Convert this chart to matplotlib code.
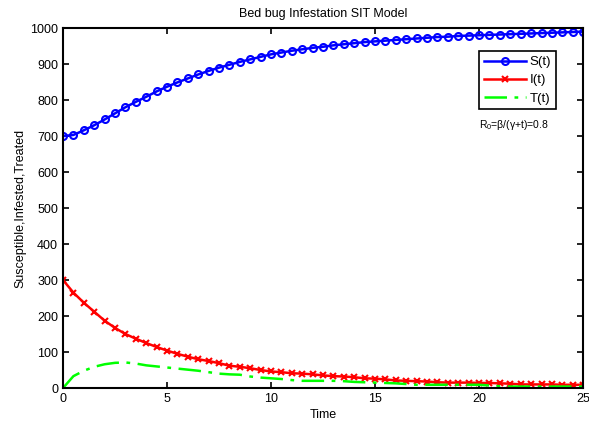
import numpy as np
import matplotlib
matplotlib.use('Agg')
import matplotlib.pyplot as plt

plt.rcParams['font.family'] = ['Liberation Sans', 'DejaVu Sans']
plt.rcParams['mathtext.fontset'] = 'custom'
plt.rcParams['mathtext.rm'] = 'Liberation Sans'

# Données (pas de 0.5)
t = np.arange(0, 25.01, 0.5)

S = [700, 703, 716, 730, 746, 763, 780, 795, 809, 824,
     837, 849, 860, 871, 881, 890, 898, 906, 913, 920,
     927, 932, 937, 941, 945, 948, 952, 955, 958, 961,
     963, 965, 967, 969, 971, 973, 975, 976, 978, 979,
     980, 981, 982, 983, 984, 985, 986, 987, 988, 989, 990]

I = [300, 265, 237, 212, 187, 167, 150, 137, 125, 114,
     104, 95, 87, 80, 75, 69, 62, 59, 55, 50,
     46, 44, 41, 40, 38, 35, 33, 32, 30, 27,
     26, 24, 21, 20, 19, 18, 16, 15, 15, 15,
     14, 14, 13, 12, 10, 10, 10, 10, 9, 9, 9]

T = [0, 33, 48, 59, 66, 70, 71, 68, 63, 60,
     57, 54, 51, 48, 44, 40, 38, 37, 32, 29,
     27, 25, 22, 20, 20, 20, 20, 19, 17, 16,
     15, 14, 13, 11, 9, 9, 9, 9, 9, 9,
     9, 7, 5, 4, 4, 4, 4, 4, 4, 4, 4]

fig = plt.figure(figsize=(5.89, 4.25), dpi=100)
ax = fig.add_axes([0.107, 0.087, 0.883, 0.847])

ax.plot(t, S, color='#0000ff', lw=1.8, marker='o', markersize=5,
        markerfacecolor='none', markeredgewidth=1.5, label='S(t)')
ax.plot(t, I, color='#ff0000', lw=1.8, marker='x', markersize=4.5,
        markeredgewidth=1.5, label='I(t)')
ax.plot(t, T, color='#00ff00', lw=1.8, ls='-.', dashes=(9, 3, 1.5, 3), label='T(t)')

ax.set_xlim(0, 25)
ax.set_ylim(0, 1000)
ax.set_xticks(range(0, 26, 5))
ax.set_yticks(range(0, 1001, 100))
ax.tick_params(direction='in', top=True, right=True, labelsize=9, length=4, width=1.2)
for sp in ax.spines.values():
    sp.set_linewidth(1.5)

ax.set_title('Bed bug Infestation SIT Model', fontsize=9, pad=8)
ax.set_xlabel('Time', fontsize=9, labelpad=3)
ax.set_ylabel('Susceptible,Infested,Treated', fontsize=9, labelpad=3)

leg = ax.legend(loc='upper left', bbox_to_anchor=(0.80, 0.935), fontsize=9.5,
                fancybox=False, edgecolor='black', framealpha=1,
                handlelength=3.2, borderpad=0.35, labelspacing=0.45,
                handletextpad=0.3, borderaxespad=0)
leg.get_frame().set_linewidth(1.2)

ax.text(20.0, 730, r'R$_0$=β/(γ+t)=0.8', fontsize=7.5, va='center', ha='left')

fig.savefig('out.png', dpi=100)
